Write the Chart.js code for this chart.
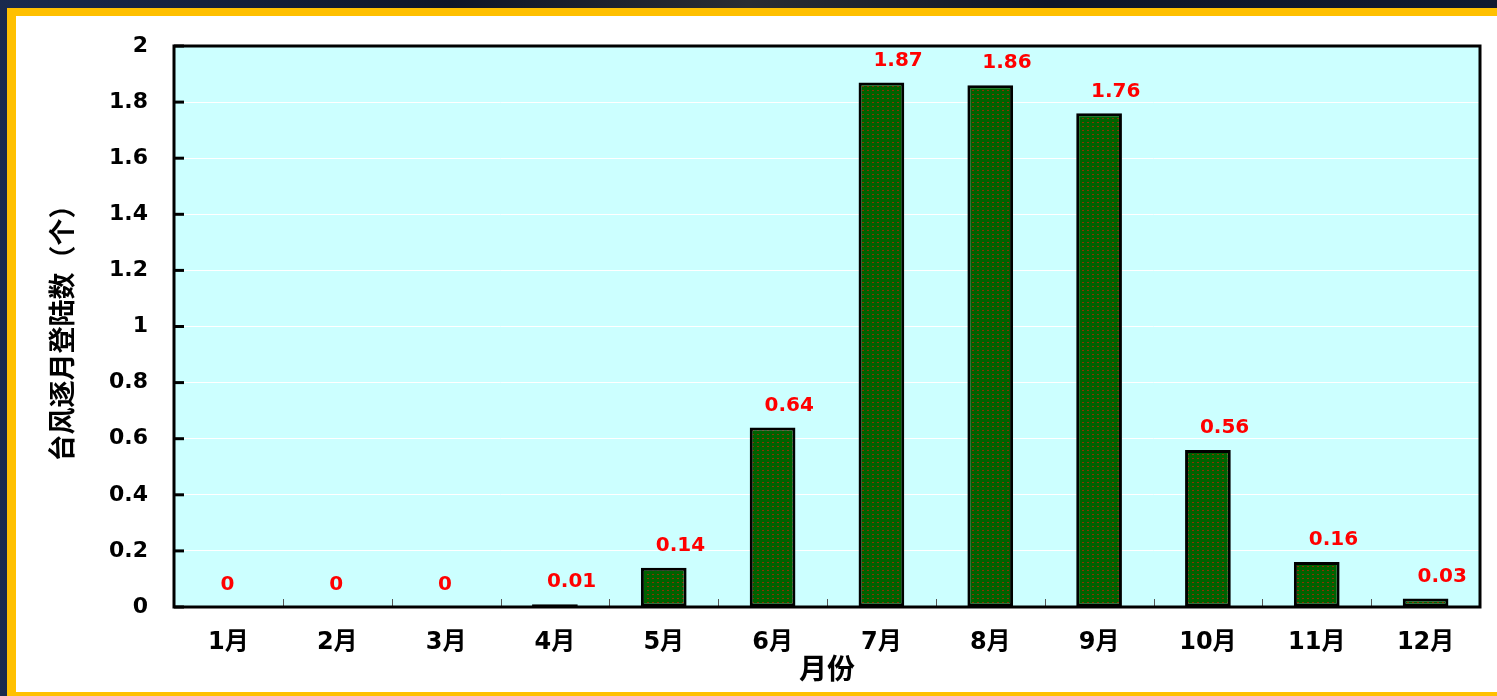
<!DOCTYPE html>
<html>
<head>
<meta charset="utf-8">
<script src="https://cdn.jsdelivr.net/npm/chart.js@4"></script>
<style>
  body { margin: 0; width: 1497px; height: 696px; overflow: hidden;
         background: linear-gradient(90deg, #1a2a4e 0%, #0f1628 30%, #2a2d33 50%, #0f1628 70%, #101a30 100%); }
  #frame { position: absolute; left: 7px; top: 8px; width: 1520px; height: 676px;
           background: #fff; border-left: 9px solid #FFC000; border-top: 8px solid #FFC000;
           border-bottom: 6px solid #FFC000; }
  #box { position: absolute; left: 16px; top: 16px; width: 1481px; height: 676px; }
</style>
</head>
<body>
<div id="frame"></div>
<div id="box"><canvas id="chart"></canvas></div>
<script>
const months = ['1月','2月','3月','4月','5月','6月','7月','8月','9月','10月','11月','12月'];
const landings = [0, 0, 0, 0.01, 0.14, 0.64, 1.87, 1.86, 1.76, 0.56, 0.16, 0.03];
const tickLabels = ['0','0.2','0.4','0.6','0.8','1','1.2','1.4','1.6','1.8','2'];

const latin = "'DejaVu Sans', 'Noto Sans CJK SC', sans-serif";

// dark green fill with little red dashes
function makePattern(){
    const c = document.createElement('canvas');
    c.width = 5; c.height = 4;
    const g = c.getContext('2d');
    g.fillStyle = '#006200';
    g.fillRect(0,0,5,4);
    g.fillStyle = '#8c3200';
    g.fillRect(1,2,2,1);
    return g.createPattern(c, 'repeat');
}

const framePlugin = {
    id: 'framePlugin',
    beforeDraw(chart){
        const a = chart.chartArea, ctx = chart.ctx;
        ctx.save();
        ctx.fillStyle = '#CCFFFF';
        ctx.fillRect(a.left, a.top, a.right-a.left, a.bottom-a.top);
        ctx.restore();
    },
    afterDatasetsDraw(chart){
        const a = chart.chartArea, ctx = chart.ctx;
        const y = chart.scales.y;
        ctx.save();
        // inner ticks on y
        ctx.strokeStyle = '#000';
        ctx.lineWidth = 3;
        y.ticks.forEach((t,i) => {
            const py = y.getPixelForTick(i);
            ctx.beginPath();
            ctx.moveTo(a.left, py);
            ctx.lineTo(a.left + 10, py);
            ctx.stroke();
        });
        // small ticks between months
        ctx.strokeStyle = '#555';
        ctx.lineWidth = 1;
        const step = (a.right - a.left) / months.length;
        for (let i = 1; i < months.length; i++){
            const px = Math.round(a.left + i*step) + 0.5;
            ctx.beginPath();
            ctx.moveTo(px, a.bottom);
            ctx.lineTo(px, a.bottom - 8);
            ctx.stroke();
        }
        ctx.strokeStyle = '#000';
        ctx.lineWidth = 3;
        ctx.strokeRect(a.left, a.top, a.right-a.left, a.bottom-a.top);
        ctx.restore();
    },
    afterDraw(chart){
        const ctx = chart.ctx;
        const meta = chart.getDatasetMeta(0);
        ctx.save();
        ctx.fillStyle = '#FF0000';
        ctx.font = 'bold 20px ' + latin;
        ctx.textAlign = 'left';
        ctx.textBaseline = 'middle';
        meta.data.forEach((bar,i) => {
            ctx.fillText(String(landings[i]), bar.x - 8, bar.y - 22);
        });
        ctx.restore();
    }
};

new Chart(document.getElementById('chart'), {
    type: 'bar',
    data: {
        labels: months,
        datasets: [{
            data: landings,
            backgroundColor: makePattern(),
            borderColor: '#000',
            borderWidth: 3,
            borderSkipped: false,
            barPercentage: 0.42,
            categoryPercentage: 1
        }]
    },
    options: {
        responsive: true,
        maintainAspectRatio: false,
        animation: false,
        layout: { padding: { left: 0, top: 30, right: 17, bottom: 0 } },
        plugins: { legend: { display: false }, tooltip: { enabled: false } },
        scales: {
            x: {
                grid: { display: false, drawTicks: false },
                border: { display: false },
                ticks: { color: '#000', padding: 21, font: { family: latin, size: 24, weight: 'bold' } },
                title: { display: true, text: '月份', color: '#000', padding: { top: 0, bottom: 3 },
                         font: { family: latin, size: 28, weight: 'bold' } },
                afterFit(s){ s.height = 85; s.paddingLeft = 0; s.paddingRight = 0; }
            },
            y: {
                min: 0, max: 2,
                grid: { color: '#ffffff', lineWidth: 1, drawTicks: false },
                border: { display: false },
                ticks: { stepSize: 0.2, color: '#000', padding: 26,
                         font: { family: latin, size: 22, weight: 'bold' },
                         callback: (v,i) => tickLabels[i] },
                title: { display: true, text: '台风逐月登陆数（个）', color: '#000', padding: { top: 30, bottom: 0 },
                         font: { family: "'Noto Sans CJK SC', sans-serif", size: 27, weight: 'bold' } },
                afterFit(s){ s.width = 158; s.paddingTop = 0; s.paddingBottom = 0; }
            }
        }
    },
    plugins: [framePlugin]
});
</script>
</body>
</html>
